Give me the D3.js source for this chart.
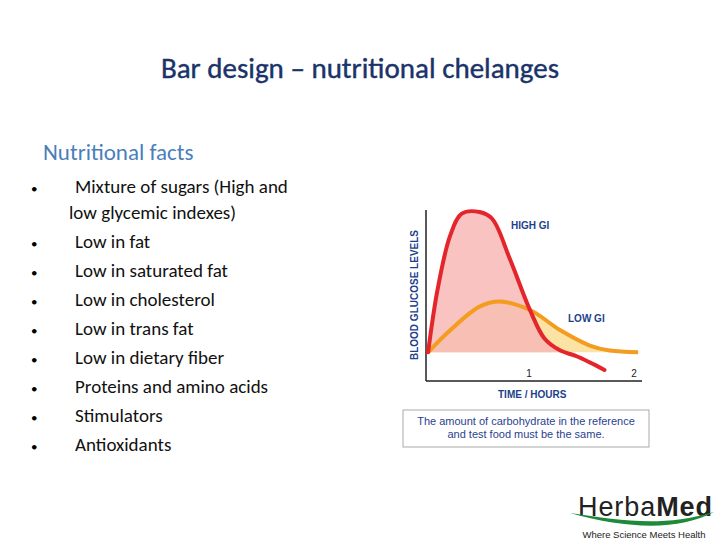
<!DOCTYPE html>
<html>
<head>
<meta charset="UTF-8" />
<script src="https://d3js.org/d3.v7.min.js"></script>
<style>
  body { margin: 0; background: #fff; }
  text { font-family: Calibri, Carlito, "Open Sans", sans-serif; }
</style>
</head>
<body>
<svg width="720" height="540"></svg>
<script>
  // data
  var bullets = [
    ["Mixture of sugars (High and", "low glycemic indexes)"],
    ["Low in fat"], ["Low in saturated fat"], ["Low in cholesterol"],
    ["Low in trans fat"], ["Low in dietary fiber"], ["Proteins and amino acids"],
    ["Stimulators"], ["Antioxidants"]
  ];
  var highHours = [0.02, 0.11, 0.23, 0.34, 0.51, 0.63, 0.8, 0.99, 1.13, 1.28, 1.42, 1.56, 1.7];
  var highLevel = [17, 54, 86, 99, 100, 96, 72, 42, 25, 18, 15, 11, 6.5];
  var lowHours = [0.02, 0.23, 0.51, 0.7, 0.99, 1.28, 1.56, 1.75, 2.02];
  var lowLevel = [17, 30, 44, 47, 42, 30, 21, 18, 17];
  var xTicks = [1, 2];
  var baseLevel = 17;

  var svg = d3.select("svg");

  svg.append("text").attr("x", 360).attr("y", 78).attr("text-anchor", "middle")
    .attr("font-size", 29).attr("fill", "#1a3368")
    .attr("stroke", "#1a3368").attr("stroke-width", 0.4)
    .text("Bar design – nutritional chelanges");

  svg.append("text").attr("x", 43).attr("y", 160).attr("font-size", 23)
    .attr("fill", "#4a7ebb").text("Nutritional facts");

  var yLine = 193;
  bullets.forEach(function (b) {
    svg.append("text").attr("x", 31).attr("y", yLine).attr("font-size", 13).text("•");
    b.forEach(function (t, i) {
      svg.append("text").attr("x", i ? 69 : 75).attr("y", yLine).attr("font-size", 19)
        .attr("fill", "#111").text(t);
      yLine += i < b.length - 1 ? 26 : 29;
    });
  });

  // chart
  var x = d3.scaleLinear().domain([0, 2]).range([426, 636]);
  var y = d3.scaleLinear().domain([0, 100]).range([381, 212]);
  var g = svg.append("g");

  var hi = highHours.map(function (h, i) { return [h, highLevel[i]]; });
  var lo = lowHours.map(function (h, i) { return [h, lowLevel[i]]; });

  var curve = d3.curveCatmullRom.alpha(0.5);
  var area = d3.area().curve(curve)
    .x(function (d) { return x(d[0]); })
    .y0(y(baseLevel)).y1(function (d) { return y(Math.max(d[1], baseLevel)); });
  var line = d3.line().curve(curve)
    .x(function (d) { return x(d[0]); }).y(function (d) { return y(d[1]); });

  g.append("path").datum(lo).attr("d", area).attr("fill", "#fbe3a6");
  g.append("path").datum(hi.filter(function (d) { return d[0] < 1.3; })).attr("d", area)
    .attr("fill", "#f7b8b6").attr("opacity", 0.85);

  g.append("line").attr("x1", 426).attr("x2", 426).attr("y1", 210).attr("y2", 381)
    .attr("stroke", "#222").attr("stroke-width", 1.5);
  g.append("line").attr("x1", 426).attr("x2", 642).attr("y1", 381).attr("y2", 381)
    .attr("stroke", "#222").attr("stroke-width", 1.5);

  g.append("path").datum(lo).attr("d", line).attr("fill", "none")
    .attr("stroke", "#f39c20").attr("stroke-width", 4);
  g.append("path").datum(hi).attr("d", line).attr("fill", "none")
    .attr("stroke", "#e4252b").attr("stroke-width", 4).attr("stroke-linecap", "round");

  g.selectAll(".tick").data(xTicks).enter().append("text")
    .attr("x", function (d) { return x(d) - 2; }).attr("y", 377).attr("text-anchor", "middle")
    .attr("font-size", 10).attr("fill", "#222").style("font-family", "Arial, sans-serif")
    .text(function (d) { return d; });

  var lab = { "font-size": 10, "font-weight": "bold", "fill": "#1d3f8c" };
  function addLab(t, xx, yy, rot) {
    var el = g.append("text").attr("x", xx).attr("y", yy).text(t)
      .style("font-family", "Arial, sans-serif");
    for (var k in lab) el.attr(k, lab[k]);
    if (rot) el.attr("text-anchor", "middle").attr("transform", "rotate(-90," + xx + "," + yy + ")");
    return el;
  }
  addLab("HIGH GI", 511, 229);
  addLab("LOW GI", 568, 322);
  addLab("TIME / HOURS", 498, 398);
  addLab("BLOOD GLUCOSE LEVELS", 418, 295, true);

  g.append("rect").attr("x", 403).attr("y", 410).attr("width", 246).attr("height", 37)
    .attr("fill", "#fff").attr("stroke", "#aaa");
  ["The amount of carbohydrate in the reference", "and test food must be the same."].forEach(function (t, i) {
    g.append("text").attr("x", 526).attr("y", 425 + i * 13).attr("text-anchor", "middle")
      .attr("font-size", 11).attr("fill", "#2b3f8f").style("font-family", "Arial, sans-serif").text(t);
  });

  // logo
  var logo = svg.append("g");
  var t = logo.append("text").attr("x", 578).attr("y", 516).attr("font-size", 27)
    .attr("textLength", 134).style("font-family", "Arial, sans-serif").attr("fill", "#222");
  t.append("tspan").text("Herba");
  t.append("tspan").attr("font-weight", "bold").text("Med");
  logo.append("path").attr("d", "M570,513 C620,520 660,528 714,512 C680,530 630,530 570,513 Z")
    .attr("fill", "#1d8a3a");
  logo.append("text").attr("x", 644).attr("y", 538).attr("text-anchor", "middle")
    .attr("font-size", 9.5).style("font-family", "Arial, sans-serif").attr("fill", "#222")
    .text("Where Science Meets Health");
</script>
</body>
</html>
